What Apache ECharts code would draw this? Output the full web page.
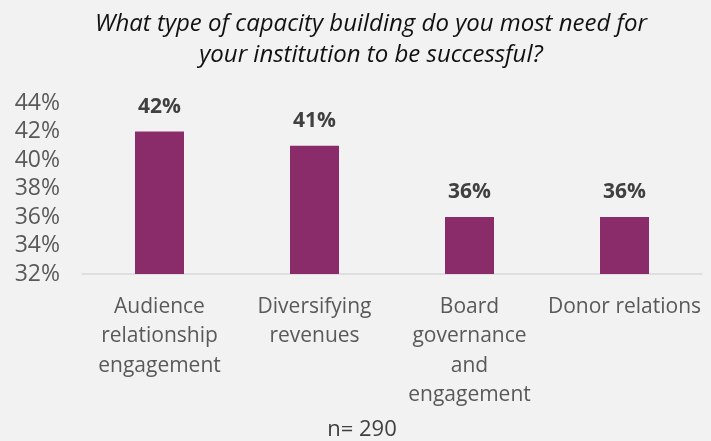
<!DOCTYPE html>
<html>
<head>
<meta charset="utf-8">
<script src="https://cdn.jsdelivr.net/npm/echarts@6/dist/echarts.min.js"></script>
<style>
html,body{margin:0;padding:0;background:#f2f2f2;}
#chart{width:711px;height:441px;}
</style>
</head>
<body>
<div id="chart"></div>
<script>
// Survey question results: share of institutions needing each capacity area
const categories = ['Audience\nrelationship\nengagement', 'Diversifying\nrevenues', 'Board\ngovernance\nand\nengagement', 'Donor relations'];
const values = [42, 41, 36, 36];
const yTicks = [32, 34, 36, 38, 40, 42, 44];

const font = '"Open Sans", Lato, sans-serif';
const chart = echarts.init(document.getElementById('chart'));
chart.setOption({
  backgroundColor: '#f2f2f2',
  title: {
    text: 'What type of capacity building do you most need for\nyour institution to be successful?',
    left: 366, top: 4, textAlign: 'center',
    textStyle: { fontFamily: font, fontStyle: 'italic', fontWeight: 'normal', fontSize: 24, color: '#111', lineHeight: 31 }
  },
  grid: { left: 82, right: 9, top: 103, bottom: 167 },
  xAxis: {
    type: 'category', data: categories,
    axisLine: { lineStyle: { color: '#d9d9d9', width: 1.5 } },
    axisTick: { show: false },
    axisLabel: { interval: 0, fontFamily: font, fontSize: 21, color: '#595959', lineHeight: 29.5, margin: 18 }
  },
  yAxis: {
    type: 'value', min: yTicks[0], max: yTicks[yTicks.length - 1], interval: 2,
    splitLine: { show: false },
    axisLine: { show: false }, axisTick: { show: false },
    axisLabel: { formatter: '{value}%', fontFamily: font, fontSize: 23, color: '#595959', margin: 22 }
  },
  series: [{
    type: 'bar', data: values, barWidth: 49,
    itemStyle: { color: '#8b2c6a' },
    label: { show: true, position: 'top', distance: 14, formatter: '{c}%', fontFamily: font, fontWeight: 'bold', fontSize: 21, color: '#404040' }
  }],
  graphic: [{
    type: 'text', x: 362, y: 430,
    style: { text: 'n= 290', fontFamily: font, fontSize: 22, fill: '#404040', textAlign: 'center', textVerticalAlign: 'middle' }
  }]
});
</script>
</body>
</html>
